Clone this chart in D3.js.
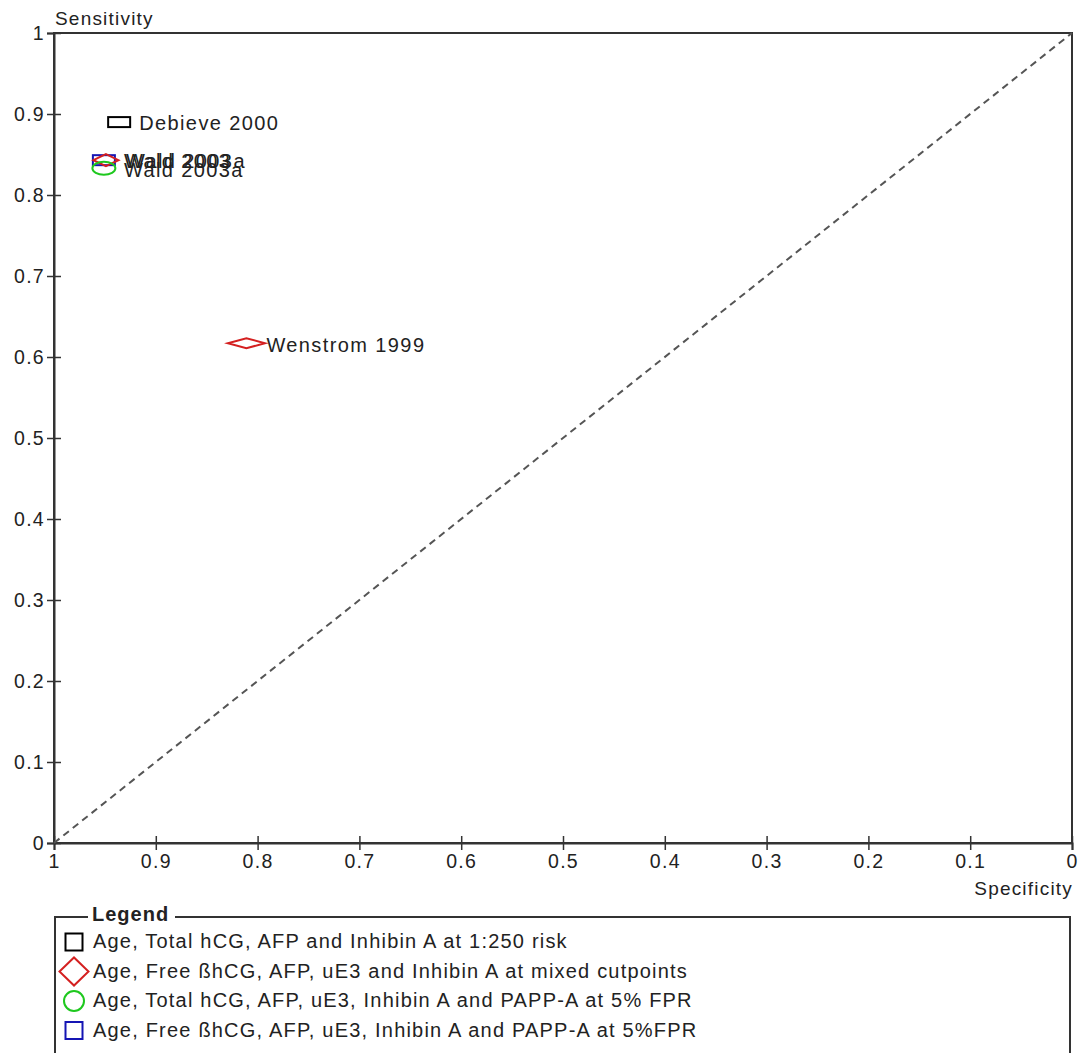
<!DOCTYPE html>
<html lang="en">
<head>
  <meta charset="UTF-8">
  <title>ROC plot</title>
  <script src="https://d3js.org/d3.v7.min.js"></script>
  <style>
    body { margin: 0; background: #fff; font-family: "Liberation Sans", Arial, sans-serif; }
    text { fill: #222; }
    .tick text { font-size: 19.5px; letter-spacing: 1.3px; }
  </style>
</head>
<body>
  <div id="viz"></div>
  <script>
    // Dimensions
    const width = 1080, height = 1053;
    const margin = {top: 33, right: 8, bottom: 210, left: 54};

    // Study data (specificity, sensitivity)
    const studies = ['Debieve 2000', 'Wald 2003', 'Wald 2003a', 'Wald 2003a', 'Wenstrom 1999'];
    const groups = [0, 3, 1, 2, 1];
    const specificity = [0.936, 0.951, 0.949, 0.951, 0.811];
    const sensitivity = [0.890, 0.843, 0.843, 0.833, 0.617];
    // relative study weights for marker size (x: controls, y: cases)
    const weightX = [22, 22, 25, 23, 37];
    const weightY = [10, 10, 12, 13, 10];

    const groupNames = [
      'Age, Total hCG, AFP and Inhibin A at 1:250 risk',
      'Age, Free ßhCG, AFP, uE3 and Inhibin A at mixed cutpoints',
      'Age, Total hCG, AFP, uE3, Inhibin A and PAPP-A at 5% FPR',
      'Age, Free ßhCG, AFP, uE3, Inhibin A and PAPP-A at 5%FPR'
    ];
    const groupColors = ['#000000', '#d42020', '#1ec81e', '#1515b4'];
    const groupShapes = ['rect', 'diamond', 'circle', 'rect'];

    const ticks = [0, 0.1, 0.2, 0.3, 0.4, 0.5, 0.6, 0.7, 0.8, 0.9, 1];

    const svg = d3.select('#viz').append('svg')
      .attr('width', width).attr('height', height);

    const x = d3.scaleLinear().domain([1, 0]).range([margin.left, 1072]);
    const y = d3.scaleLinear().domain([0, 1]).range([843, margin.top]);
    const sizeScale = d3.scaleLinear().domain([0, 1]).range([0, 1]);

    // Frame
    svg.append('rect')
      .attr('x', x(1)).attr('y', y(1))
      .attr('width', x(0) - x(1)).attr('height', y(0) - y(1))
      .attr('fill', 'none').attr('stroke', '#333').attr('stroke-width', 2);

    // Axes
    const xAxis = svg.append('g')
      .attr('transform', `translate(0,${y(0)})`)
      .call(d3.axisBottom(x).tickValues(ticks).tickFormat(d3.format('~g'))
        .tickSize(7).tickPadding(4));
    xAxis.selectAll('.tick line').attr('y1', -7);

    const yAxis = svg.append('g')
      .attr('transform', `translate(${x(1)},0)`)
      .call(d3.axisLeft(y).tickValues(ticks).tickFormat(d3.format('~g'))
        .tickSize(7).tickPadding(2));
    yAxis.selectAll('.tick line').attr('x1', 7);

    svg.selectAll('.domain').attr('stroke', '#333').attr('stroke-width', 2);
    svg.selectAll('.tick line').attr('stroke', '#333').attr('stroke-width', 1.5);
    svg.selectAll('.tick text').attr('fill', '#222').attr('font-family', '"Liberation Sans", Arial, sans-serif');

    // Axis titles
    svg.append('text').attr('x', 55).attr('y', 25)
      .style('font-size', '19px').style('letter-spacing', '1.2px')
      .text('Sensitivity');
    svg.append('text').attr('x', x(0) + 1).attr('y', 895)
      .attr('text-anchor', 'end')
      .style('font-size', '19px').style('letter-spacing', '1.2px')
      .text('Specificity');

    // Diagonal reference line
    svg.append('line')
      .attr('x1', x(1)).attr('y1', y(0))
      .attr('x2', x(0)).attr('y2', y(1))
      .attr('stroke', '#555').attr('stroke-width', 2)
      .attr('stroke-dasharray', '7,5');

    // Draw a marker
    function marker(g, shape, cx, cy, w, h, color) {
      if (shape === 'rect') {
        g.append('rect').attr('x', cx - w / 2).attr('y', cy - h / 2)
          .attr('width', w).attr('height', h)
          .attr('fill', 'none').attr('stroke', color).attr('stroke-width', 2);
      } else if (shape === 'diamond') {
        g.append('path')
          .attr('d', `M${cx - w / 2},${cy}L${cx},${cy - h / 2}L${cx + w / 2},${cy}L${cx},${cy + h / 2}Z`)
          .attr('fill', 'none').attr('stroke', color).attr('stroke-width', 2);
      } else {
        g.append('ellipse').attr('cx', cx).attr('cy', cy)
          .attr('rx', w / 2).attr('ry', h / 2)
          .attr('fill', 'none').attr('stroke', color).attr('stroke-width', 2);
      }
    }

    // Points
    const pts = svg.append('g');
    studies.forEach((s, i) => {
      const cx = x(specificity[i]), cy = y(sensitivity[i]);
      const gi = groups[i];
      marker(pts, groupShapes[gi], cx, cy, sizeScale(weightX[i]), sizeScale(weightY[i]), groupColors[gi]);
    });
    studies.forEach((s, i) => {
      const cx = x(specificity[i]), cy = y(sensitivity[i]);
      pts.append('text')
        .attr('x', cx + 20).attr('y', cy + 3)
        .attr('dominant-baseline', 'middle')
        .style('font-size', '20px').style('letter-spacing', '1.4px')
        .text(s);
    });

    // Legend
    const lg = svg.append('g');
    lg.append('path')
      .attr('d', 'M88,917H55V1060M1070,1060V917H175')
      .attr('fill', 'none').attr('stroke', '#333').attr('stroke-width', 2);
    lg.append('text').attr('x', 92).attr('y', 916)
      .attr('dominant-baseline', 'middle')
      .style('font-size', '20px').style('font-weight', 'bold').style('letter-spacing', '1px')
      .text('Legend');

    const legendMarker = [[17, 17], [29, 28], [20, 20], [17, 17]];
    groupNames.forEach((name, i) => {
      const cy = 942 + i * 29.5;
      marker(lg, groupShapes[i], 74, cy, legendMarker[i][0], legendMarker[i][1], groupColors[i]);
      lg.append('text').attr('x', 93).attr('y', cy + 1)
        .attr('dominant-baseline', 'middle')
        .style('font-size', '20px').style('letter-spacing', '1.2px')
        .text(name);
    });
  </script>
</body>
</html>
